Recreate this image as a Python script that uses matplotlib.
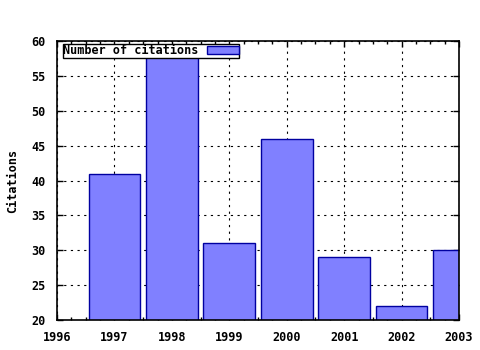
import matplotlib
matplotlib.use("Agg")
import matplotlib.pyplot as plt
from matplotlib.ticker import MultipleLocator

years = [1997, 1998, 1999, 2000, 2001, 2002, 2003]
citations = [41, 58, 31, 46, 29, 22, 30]
series_label = "Number of citations"
y_label = "Citations"

plt.rcParams['font.family'] = ['DejaVu Sans Mono']
plt.rcParams['font.weight'] = 'bold'
FS = 8.5

fig = plt.figure(figsize=(4.8, 3.5), dpi=100)
ax = fig.add_axes([57/480, 1-320/350, (459-57)/480, (320-41)/350])

ax.bar(years, citations, width=0.9, color='#8080FF', edgecolor='#0000A0',
       linewidth=1.0, zorder=2, label=series_label)

ax.set_xlim(1996, 2003)
ax.set_ylim(20, 60)
ax.xaxis.set_major_locator(MultipleLocator(1))
ax.xaxis.set_minor_locator(MultipleLocator(0.25))
ax.yaxis.set_major_locator(MultipleLocator(5))
ax.tick_params(axis='both', which='both', direction='in', top=True, right=True,
               labelsize=FS, width=1, colors='black')
ax.tick_params(axis='x', which='major', length=4, pad=8)
ax.tick_params(axis='y', which='major', length=4, pad=8)
ax.tick_params(which='minor', length=2)
for lab in ax.get_xticklabels() + ax.get_yticklabels():
    lab.set_fontweight('bold')
ax.grid(True, which='major', linestyle=(0, (2, 4)), color='black', linewidth=0.8, zorder=0)
ax.set_axisbelow(True)
for s in ax.spines.values():
    s.set_linewidth(1.2)
    s.set_zorder(5)

ax.set_ylabel(y_label, fontsize=FS, fontweight='bold')
ax.yaxis.set_label_coords(-(57-19)/402, 0.5)

leg = ax.legend(loc='upper left', bbox_to_anchor=(0.015, 0.989), fontsize=FS,
                frameon=True, fancybox=False, edgecolor='black', framealpha=1,
                markerfirst=False, handlelength=2.7, handleheight=0.6,
                borderpad=0.02, handletextpad=0.7, borderaxespad=0)
leg.get_frame().set_linewidth(1.0)
leg.set_zorder(6)
for t in leg.get_texts():
    t.set_fontweight('bold')

fig.savefig("out.png", dpi=100)
